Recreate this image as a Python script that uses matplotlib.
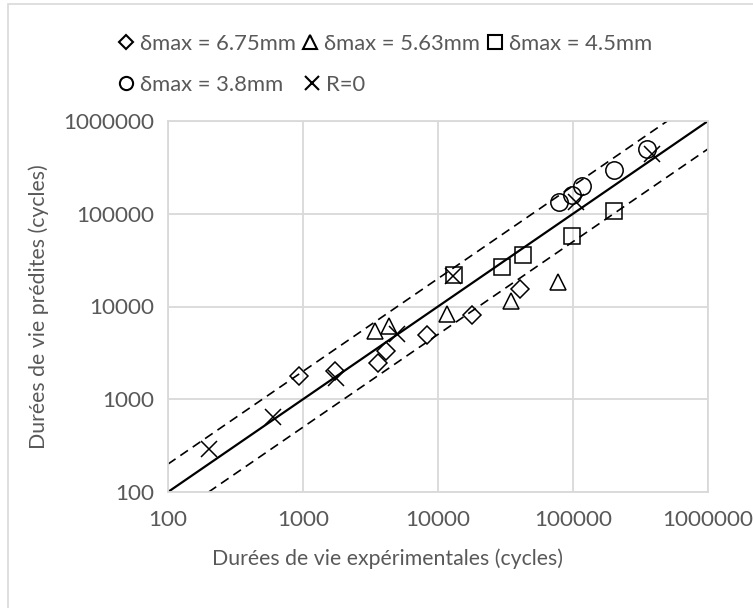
import matplotlib
matplotlib.use("Agg")
import matplotlib.pyplot as plt
from matplotlib.lines import Line2D
from matplotlib.patches import Rectangle
import numpy as np

plt.rcParams['font.family'] = ['Lato', 'DejaVu Sans']

# Data (experimental cycles, predicted cycles)
d675_x = [930, 1730, 3610, 4150, 8300, 18000, 40300]
d675_y = [1770, 2010, 2480, 3300, 4910, 8000, 15500]

d563_x = [3410, 4340, 11750, 35000, 77400]
d563_y = [5400, 6100, 8200, 11500, 18500]

d45_x = [13060, 30000, 42700, 98400, 202800]
d45_y = [21800, 26500, 36000, 57000, 106000]

d38_x = [78700, 98400, 117500, 201400, 353000]
d38_y = [134600, 158900, 200000, 295000, 496000]

r0_x = [201, 600, 1770, 5000, 12870, 106000, 385000]
r0_y = [290, 646, 1710, 5080, 21500, 132400, 438000]

labels = ["δmax = 6.75mm", "δmax = 5.63mm", "δmax = 4.5mm", "δmax = 3.8mm", "R=0"]

ref_x = [100, 1000000]
upper_x = [100, 500000]
lower_x = [200, 1000000]

fig = plt.figure(figsize=(7.53, 6.08), dpi=100)
ax = fig.add_axes([168/753, 1-492/608, (708-168)/753, (492-121)/608])

ax.set_xscale('log')
ax.set_yscale('log')
ax.set_xlim(100, 1000000)
ax.set_ylim(100, 1000000)

grid_c = '#d9d9d9'
ax.grid(True, which='major', color=grid_c, linewidth=1.3)
ax.set_axisbelow(True)
for s in ax.spines.values():
    s.set_color(grid_c)
    s.set_linewidth(1.3)
ax.tick_params(which='both', length=0, labelsize=16.2, colors='#595959')
ax.tick_params(axis='x', pad=13)
ax.tick_params(axis='y', pad=10)
ax.minorticks_off()
ticks = [100, 1000, 10000, 100000, 1000000]
ax.set_xticks(ticks)
ax.set_yticks(ticks)
ax.set_xticklabels([str(t) for t in ticks])
ax.set_yticklabels([str(t) for t in ticks])

ax.plot(ref_x, ref_x, color='black', linewidth=1.6, zorder=2)
ax.plot(upper_x, [2*v for v in upper_x], color='black', linewidth=1.2, linestyle=(0, (5.5, 3.5)), zorder=2)
ax.plot(lower_x, [v/2 for v in lower_x], color='black', linewidth=1.2, linestyle=(0, (5.5, 3.5)), zorder=2)

mew = 1.1
ax.plot(d675_x, d675_y, linestyle='none', marker='D', markersize=9, markerfacecolor='none', markeredgecolor='black', markeredgewidth=mew, zorder=3)
ax.plot(d563_x, d563_y, linestyle='none', marker='^', markersize=11.5, markerfacecolor='none', markeredgecolor='black', markeredgewidth=mew, zorder=3)
ax.plot(d45_x, d45_y, linestyle='none', marker='s', markersize=12, markerfacecolor='none', markeredgecolor='black', markeredgewidth=mew, zorder=3)
ax.plot(d38_x, d38_y, linestyle='none', marker='o', markersize=12.5, markerfacecolor='none', markeredgecolor='black', markeredgewidth=mew, zorder=3)
ax.plot(r0_x, r0_y, linestyle='none', marker='x', markersize=12, markerfacecolor='none', markeredgecolor='black', markeredgewidth=mew, zorder=3)

fig.text(387/753, 1-559/608, "Durées de vie expérimentales (cycles)", ha='center', va='center', fontsize=15.3, color='#595959')
fig.text(39/753, 1-307/608, "Durées de vie prédites (cycles)", ha='center', va='center', rotation=90, fontsize=15.3, color='#595959')

def h(m, ms):
    return Line2D([], [], linestyle='none', marker=m, markersize=ms, markerfacecolor='none', markeredgecolor='black', markeredgewidth=1.5)

row1 = [h('D', 7), h('^', 9.5), h('s', 9.5)]
row2 = [h('o', 9.5), h('x', 9.5)]
kw = dict(frameon=False, fontsize=15.8, handlelength=0.6, handletextpad=0.35, columnspacing=0.35, borderpad=0, borderaxespad=0, labelcolor='#595959')
leg1 = fig.legend(row1, labels[:3], loc='center left', bbox_to_anchor=(119/753, 1-44/608), ncol=3, **kw)
leg2 = fig.legend(row2, labels[3:], loc='center left', bbox_to_anchor=(119/753, 1-85/608), ncol=2, **dict(kw, columnspacing=1.0))

fig.patches.append(Rectangle((8/753, -0.01), 1.0, 1 - 4/608 + 0.01, transform=fig.transFigure, fill=False, edgecolor='#d9d9d9', linewidth=1.2))

fig.savefig('out.png', dpi=100)
